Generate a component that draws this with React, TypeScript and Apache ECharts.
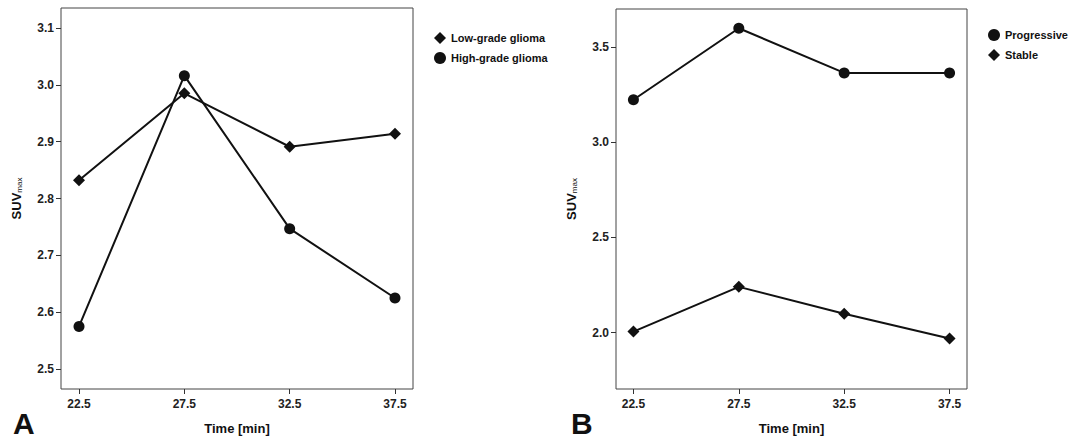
import React, { useEffect, useRef } from "react";
import * as echarts from "echarts";

const times = [22.5, 27.5, 32.5, 37.5];
const lowGrade = [2.832, 2.985, 2.891, 2.914];
const highGrade = [2.575, 3.016, 2.747, 2.625];
const progressive = [3.224, 3.6, 3.365, 3.365];
const stable = [2.005, 2.24, 2.099, 1.969];
const yTicksA = [2.5, 2.6, 2.7, 2.8, 2.9, 3.0, 3.1];
const yTicksB = [2.0, 2.5, 3.0, 3.5];

const FONT = "'Liberation Sans', Arial, sans-serif";
const INK = "#111";

export default function App() {
  const ref = useRef<HTMLDivElement>(null);
  useEffect(() => {
    if (!ref.current) return;
    const chart = echarts.init(ref.current, undefined, { renderer: "svg" });
    const pts = (ys: number[]) => times.map((t, i) => [t, ys[i]]);
    const xAxisBase = (gridIndex: number, min: number, max: number) => ({
      type: "value",
      gridIndex,
      min,
      max,
      name: "Time [min]",
      nameLocation: "middle",
      nameGap: 33,
      nameTextStyle: { fontFamily: FONT, fontWeight: "bold", fontSize: 13, color: INK },
      axisLine: { show: false },
      splitLine: { show: false },
      axisTick: { show: true, inside: false, length: 5, customValues: times, lineStyle: { color: "#333" } },
      axisLabel: {
        customValues: times,
        margin: 9,
        fontFamily: FONT,
        fontWeight: "bold",
        fontSize: 12,
        color: "#222",
        formatter: (v: number) => v.toFixed(1),
      },
    });
    const yAxisBase = (gridIndex: number, min: number, max: number, ticks: number[]) => ({
      type: "value",
      gridIndex,
      min,
      max,
      name: "{a|SUV}{b|max}",
      nameLocation: "middle",
      nameRotate: 90,
      nameGap: 38,
      nameTextStyle: {
        fontFamily: FONT,
        rich: {
          a: { fontFamily: FONT, fontWeight: "bold", fontSize: 13, color: INK },
          b: { fontFamily: FONT, fontSize: 8, color: INK, verticalAlign: "bottom", padding: [6, 0, 0, 0] },
        },
      },
      axisLine: { show: false },
      splitLine: { show: false },
      axisTick: { show: true, inside: false, length: 5, customValues: ticks, lineStyle: { color: "#333" } },
      axisLabel: {
        customValues: ticks,
        margin: 7,
        fontFamily: FONT,
        fontWeight: "bold",
        fontSize: 12,
        color: "#222",
        formatter: (v: number) => v.toFixed(1),
      },
    });
    const line = (name: string, data: number[], symbol: string, idx: number) => ({
      type: "line",
      name,
      xAxisIndex: idx,
      yAxisIndex: idx,
      data: pts(data),
      symbol,
      symbolSize: symbol === "diamond" ? 12 : 11,
      lineStyle: { color: INK, width: 2 },
      itemStyle: { color: INK },
      z: 3,
    });
    chart.setOption({
      animation: false,
      backgroundColor: "#fff",
      grid: [
        { left: 61, top: 8, width: 352, height: 385, show: true, borderColor: "#444", borderWidth: 1, backgroundColor: "transparent" },
        { left: 616, top: 9, width: 351, height: 383, show: true, borderColor: "#444", borderWidth: 1, backgroundColor: "transparent" },
      ],
      xAxis: [xAxisBase(0, 21.645, 38.355), xAxisBase(1, 21.673, 38.327)],
      yAxis: [yAxisBase(0, 2.465, 3.135, yTicksA), yAxisBase(1, 1.703, 3.701, yTicksB)],
      legend: [
        {
          orient: "vertical",
          left: 429,
          top: 27,
          itemWidth: 12,
          itemHeight: 12,
          itemGap: 8,
          data: [
            { name: "Low-grade glioma", icon: "diamond" },
            { name: "High-grade glioma", icon: "circle" },
          ],
          textStyle: { fontFamily: FONT, fontWeight: "bold", fontSize: 11, color: INK },
        },
        {
          orient: "vertical",
          left: 983,
          top: 24,
          itemWidth: 12,
          itemHeight: 12,
          itemGap: 8,
          data: [
            { name: "Progressive", icon: "circle" },
            { name: "Stable", icon: "diamond" },
          ],
          textStyle: { fontFamily: FONT, fontWeight: "bold", fontSize: 11, color: INK },
        },
      ],
      graphic: [
        { type: "text", left: 13, top: 408, style: { text: "A", font: `bold 30px ${FONT}`, fill: INK } },
        { type: "text", left: 571, top: 408, style: { text: "B", font: `bold 30px ${FONT}`, fill: INK } },
      ],
      series: [
        line("Low-grade glioma", lowGrade, "diamond", 0),
        line("High-grade glioma", highGrade, "circle", 0),
        line("Progressive", progressive, "circle", 1),
        line("Stable", stable, "diamond", 1),
      ],
    });
    return () => chart.dispose();
  }, []);
  return <div ref={ref} style={{ position: "fixed", left: 0, top: 0, width: 1072, height: 440 }} />;
}
